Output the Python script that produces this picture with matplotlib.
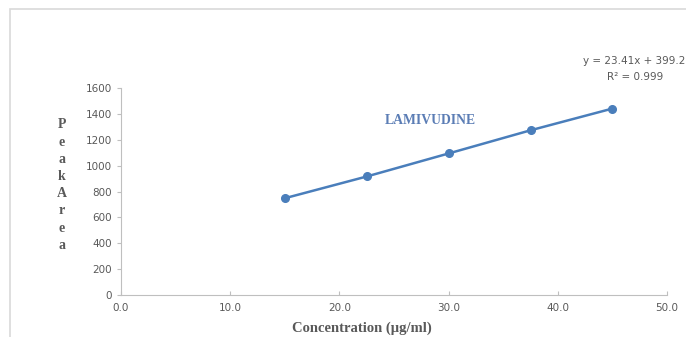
import matplotlib.pyplot as plt
from matplotlib.patches import Rectangle

# calibration data
conc = [15.0, 22.5, 30.0, 37.5, 45.0]
peak_area = [748, 916, 1094, 1273, 1441]
x_ticks = [0, 10, 20, 30, 40, 50]
y_ticks = [0, 200, 400, 600, 800, 1000, 1200, 1400, 1600]
equation = "y = 23.41x + 399.2"
r_squared = "R\u00b2 = 0.999"

W, H = 686, 337
fig = plt.figure(figsize=(W / 100, H / 100), dpi=100)

# light chart-area frame
fig.patches.append(Rectangle((10 / W, -0.1), 1.1, 1 - 9 / H + 0.1, transform=fig.transFigure,
                             fill=False, edgecolor="#d9d9d9", linewidth=1.2))

ax = fig.add_axes([121 / W, 42 / H, 546 / W, 207 / H])
ax.plot(conc, peak_area, color="#4a7ebb", linewidth=1.8, marker="o", markersize=5.5)

ax.set_xlim(0, 50)
ax.set_ylim(0, 1600)
ax.set_xticks(x_ticks)
ax.set_xticklabels([f"{v:.1f}" for v in x_ticks])
ax.set_yticks(y_ticks)

gray = "#595959"
for side in ["top", "right"]:
    ax.spines[side].set_visible(False)
for side in ["left", "bottom"]:
    ax.spines[side].set_color("#bfbfbf")
ax.tick_params(axis="both", colors="#bfbfbf", labelcolor=gray, labelsize=7.5, length=3)
ax.tick_params(axis="x", direction="in", pad=6)
ax.tick_params(axis="y", direction="out")

fig.text(362 / W, 1 - 328 / H, "Concentration (\u00b5g/ml)", ha="center", va="center",
         family="Liberation Serif", weight="bold", fontsize=10.5, color=gray)
fig.text(62 / W, 1 - 185 / H, "\n".join("PeakArea"), ha="center", va="center",
         family="Liberation Serif", weight="bold", fontsize=10, color=gray, linespacing=1.42)

fig.text(430 / W, 1 - 120 / H, "LAMIVUDINE", ha="center", va="center",
         family="Liberation Serif", weight="bold", fontsize=9.8, color="#5b7db5")
fig.text(583 / W, 1 - 61 / H, equation, ha="left", va="center", fontsize=7.5, color=gray)
fig.text(635 / W, 1 - 77 / H, r_squared, ha="center", va="center", fontsize=7.5, color=gray)

fig.savefig("out.png", dpi=100)
